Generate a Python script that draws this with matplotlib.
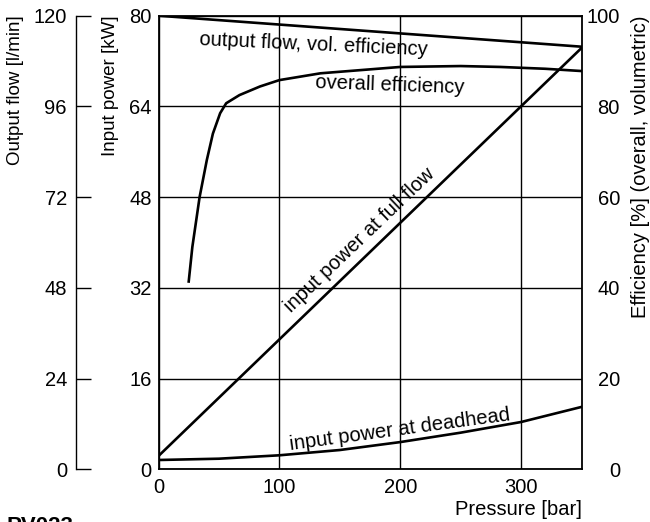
import matplotlib
matplotlib.use('Agg')
import matplotlib.pyplot as plt

plt.rcParams['font.family'] = ['Liberation Sans', 'DejaVu Sans']
plt.rcParams['font.size'] = 14.5

# values
flow_p = [0, 350]
flow_lpm = [120, 111.8]

eff_p = [25, 28, 34, 40, 45, 51, 56, 67, 84, 100, 134, 200, 250, 283, 320, 350]
eff_overall = [41.4, 49, 60, 68.2, 74, 78.5, 80.7, 82.5, 84.4, 85.8, 87.3, 88.7, 88.9, 88.7, 88.3, 87.8]

full_p = [0, 350]
full_kw = [2.35, 74.3]

dead_p = [0, 50, 100, 150, 200, 250, 300, 350]
dead_kw = [1.64, 1.87, 2.47, 3.4, 4.8, 6.46, 8.34, 11.0]

power_ticks = [0, 16, 32, 48, 64, 80]
flow_ticks = [0, 24, 48, 72, 96, 120]
eff_ticks = [0, 20, 40, 60, 80, 100]
p_ticks = [0, 100, 200, 300]

W, H = 650, 522
fig = plt.figure(figsize=(W / 100, H / 100), dpi=100)
ax = fig.add_axes([158.5 / W, 1 - 469.3 / H, 423 / W, 453.6 / H])

lw = 1.9
ax.set_xlim(0, 350)
ax.set_ylim(0, 80)
ax.set_xticks(p_ticks)
ax.set_yticks(power_ticks)
ax.grid(True, color='black', lw=1.0)
ax.tick_params(length=0, pad=5)
ax.tick_params(axis='x', pad=6.5)
for s in ax.spines.values():
    s.set_linewidth(1.3)
ax.set_xlabel('Pressure [bar]', loc='right', labelpad=2)

ax.plot(full_p, full_kw, color='black', lw=lw)
ax.plot(dead_p, dead_kw, color='black', lw=lw)

# efficiency axis on the right
eff = ax.twinx()
eff.set_ylim(0, 100)
eff.set_yticks(eff_ticks)
eff.tick_params(length=0, pad=27.7)
for t in eff.get_yticklabels():
    t.set_horizontalalignment('right')
for s in eff.spines.values():
    s.set_visible(False)
eff.plot(eff_p, eff_overall, color='black', lw=lw)

# output flow axis, outer left
flow = ax.twinx()
flow.set_ylim(0, 120)
flow.set_yticks(flow_ticks)
flow.yaxis.set_ticks_position('left')
for k in ['top', 'right', 'bottom']:
    flow.spines[k].set_visible(False)
flow.spines['left'].set_visible(True)
flow.spines['left'].set_position(('outward', 59.4))
flow.spines['left'].set_linewidth(1.0)
flow.tick_params(direction='in', length=10.8, width=1.0, pad=6.5)
flow.plot(flow_p, flow_lpm, color='black', lw=lw)

# curve labels
ax.text(128, 74.8, 'output flow, vol. efficiency', rotation=-2.6, ha='center', va='center')
ax.text(191.6, 67.8, 'overall efficiency', rotation=-2, ha='center', va='center')
ax.text(166.8, 40.4, 'input power at full flow', rotation=43.7, ha='center', va='center',
        rotation_mode='anchor')
ax.text(200, 6.9, 'input power at deadhead', rotation=7.7, ha='center', va='center',
        rotation_mode='anchor')

# axis titles
fig.text(16 / W, 1 - 15 / H, 'Output flow [l/min]', rotation=90, ha='center', va='top', fontsize=13.5)
fig.text(111 / W, 1 - 15 / H, 'Input power [kW]', rotation=90, ha='center', va='top', fontsize=13.5)
fig.text(640 / W, 1 - 15 / H, 'Efficiency [%] (overall, volumetric)', rotation=90, ha='center', va='top')

fig.text(7 / W, 1 - 516 / H, 'PV023', fontweight='bold', va='top', fontsize=16)

fig.savefig('out.png', dpi=100)
